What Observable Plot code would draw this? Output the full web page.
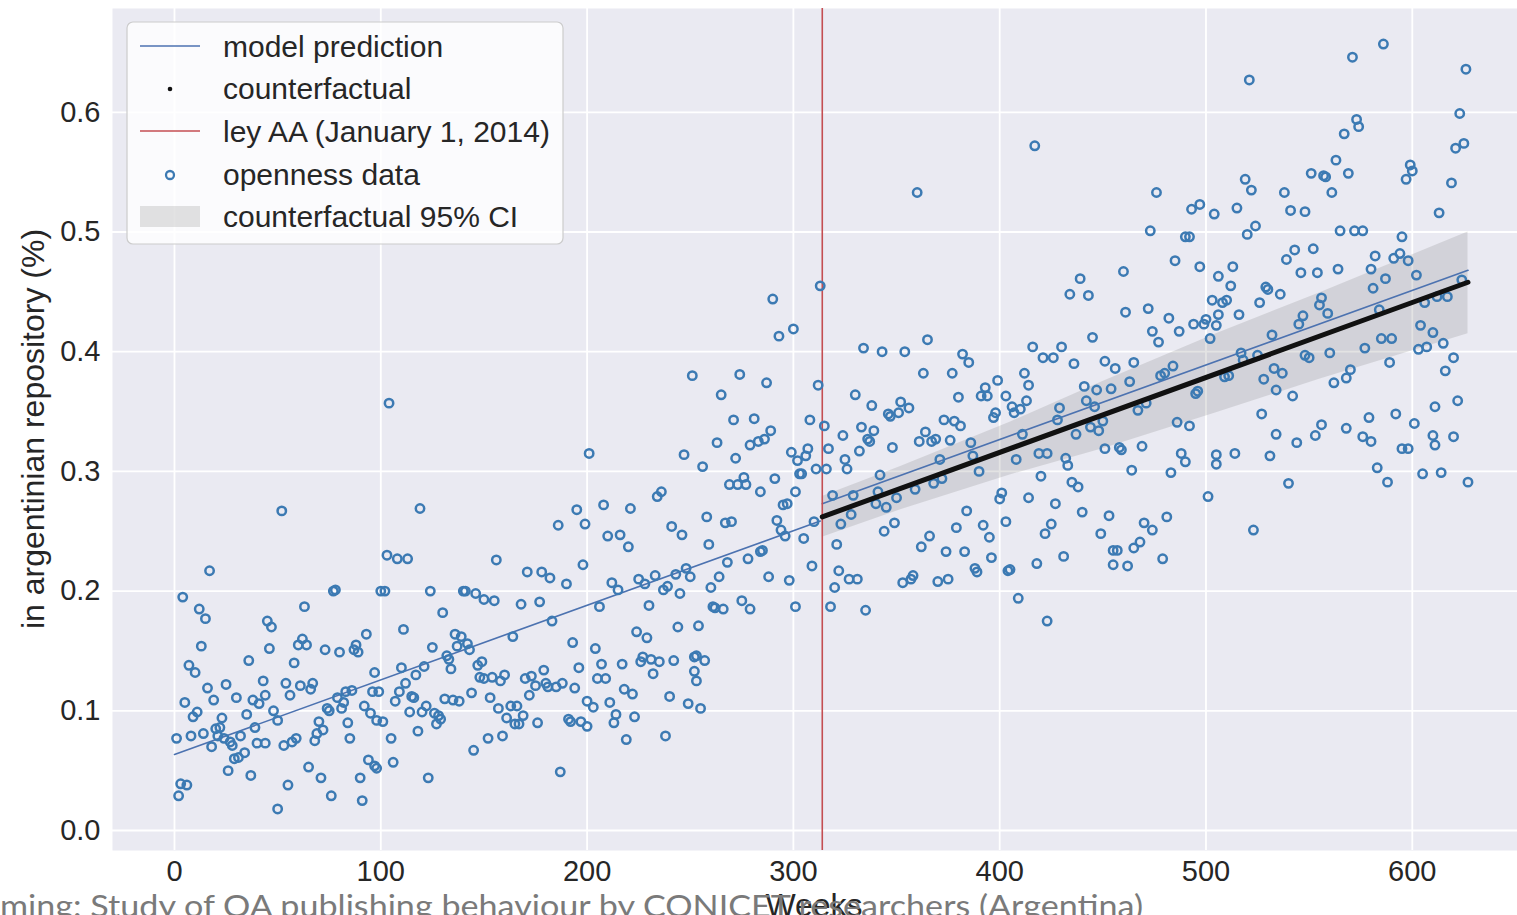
<!DOCTYPE html>
<html><head><meta charset="utf-8">
<script src="https://cdn.jsdelivr.net/npm/d3@7"></script>
<script src="https://cdn.jsdelivr.net/npm/@observablehq/plot@0.6"></script>
<style>
html,body{margin:0;padding:0;background:#fff;overflow:hidden;}
#wrap{position:relative;width:1517px;height:915px;}
#overlay{position:absolute;left:0;top:0;pointer-events:none;}
</style></head><body><div id="wrap"></div>
<script>
// openness data: [week, fraction]
const openness = [
[17,.217],[4,.195],[12,.185],[15,.177],[45,.175],[47,.170],[13,.154],[46,.152],[36,.142],[7,.138],[10,.132],[43,.125],[16,.119],[25,.122],[19,.109],[30,.111],[38,.109],[41,.106],[44,.113],[5,.107],[11,.099],[9,.095],[23,.094],[35,.097],[1,.077],[8,.079],[14,.081],[20,.085],[22,.086],[21,.079],[24,.077],[27,.074],[28,.071],[32,.079],[18,.070],[39,.086],[40,.073],[44,.073],[48,.100],[29,.060],[31,.061],[34,.065],[26,.050],[37,.046],[3,.039],[6,.038],[2,.029],[50,.018],
[52,.267],[77,.200],[78,.201],[100,.200],[63,.187],[93,.164],[62,.160],[60,.155],[64,.155],[73,.151],[80,.149],[88,.155],[87,.151],[89,.149],[58,.140],[97,.132],[54,.123],[61,.121],[67,.123],[66,.118],[56,.113],[96,.116],[99,.116],[79,.111],[83,.116],[86,.117],[82,.107],[74,.102],[75,.100],[81,.102],[92,.104],[95,.098],[50,.092],[70,.091],[72,.084],[84,.090],[98,.092],[69,.081],[68,.075],[59,.077],[57,.074],[53,.071],[85,.077],[65,.053],[71,.044],[94,.059],[97,.054],[90,.044],[55,.038],[76,.029],[91,.025],
[104,.357],[119,.269],[103,.230],[108,.227],[113,.227],[102,.200],[124,.200],[140,.200],[141,.200],[146,.198],[150,.193],[130,.182],[111,.168],[136,.164],[139,.162],[137,.154],[142,.156],[143,.151],[125,.153],[132,.146],[133,.143],[134,.135],[121,.137],[110,.136],[117,.130],[147,.138],[149,.141],[148,.128],[150,.127],[112,.123],[109,.116],[107,.108],[115,.112],[116,.111],[131,.110],[135,.109],[138,.108],[144,.115],[114,.099],[120,.099],[122,.104],[126,.098],[128,.096],[127,.089],[129,.093],[101,.091],[105,.077],[118,.083],[145,.067],[106,.057],[98,.052],[123,.044],
[201,.315],[195,.268],[186,.255],[199,.256],[156,.226],[198,.222],[171,.216],[178,.216],[182,.211],[190,.206],[155,.192],[168,.189],[177,.191],[183,.175],[164,.162],[193,.157],[196,.136],[179,.134],[160,.130],[154,.128],[158,.125],[170,.127],[173,.129],[175,.121],[180,.123],[181,.120],[185,.120],[188,.123],[194,.119],[153,.111],[172,.113],[200,.108],[157,.102],[163,.104],[166,.104],[161,.094],[165,.089],[167,.089],[169,.096],[176,.090],[191,.093],[192,.091],[197,.091],[200,.087],[152,.077],[159,.079],[187,.049],
[251,.380],[247,.314],[236,.283],[234,.279],[208,.272],[221,.269],[241,.254],[246,.247],[210,.246],[216,.247],[220,.237],[212,.207],[215,.201],[225,.210],[228,.206],[233,.213],[237,.201],[239,.204],[243,.214],[248,.219],[250,.212],[245,.198],[206,.187],[230,.188],[244,.170],[224,.166],[229,.161],[204,.152],[227,.145],[226,.141],[231,.143],[235,.141],[242,.142],[207,.139],[217,.139],[252,.145],[232,.131],[205,.127],[209,.127],[253,.125],[218,.118],[222,.114],[203,.103],[211,.107],[240,.112],[249,.106],[214,.097],[223,.095],[213,.090],[219,.076],[238,.079],
[290,.444],[293,.413],[300,.419],[274,.381],[287,.374],[265,.364],[271,.343],[281,.344],[289,.334],[286,.327],[283,.325],[279,.322],[263,.324],[272,.311],[299,.316],[302,.309],[303,.298],[256,.304],[269,.289],[273,.289],[276,.295],[277,.289],[284,.283],[291,.294],[301,.283],[295,.272],[297,.273],[258,.262],[267,.257],[270,.258],[292,.259],[294,.251],[296,.246],[259,.239],[284,.233],[285,.234],[278,.227],[268,.224],[264,.212],[288,.212],[298,.209],[260,.203],[275,.192],[279,.185],[261,.187],[262,.186],[266,.185],[301,.187],[254,.171],[253,.146],[257,.142],[252,.133],[255,.102],
[313,.455],[334,.403],[343,.400],[354,.400],[312,.372],[330,.364],[338,.355],[346,.348],[347,.346],[351,.349],[352,.358],[308,.343],[315,.338],[333,.337],[339,.334],[324,.330],[336,.327],[337,.325],[317,.319],[307,.319],[332,.317],[348,.320],[306,.313],[325,.310],[326,.302],[311,.302],[316,.302],[304,.298],[342,.297],[319,.280],[329,.280],[341,.283],[340,.273],[345,.270],[350,.278],[328,.264],[310,.258],[323,.256],[349,.257],[344,.250],[305,.244],[321,.239],[309,.221],[322,.217],[327,.210],[331,.210],[353,.207],[320,.203],[318,.187],[335,.184],
[360,.533],[365,.410],[382,.398],[385,.391],[363,.382],[377,.382],[399,.376],[393,.370],[391,.363],[394,.363],[380,.362],[356,.353],[398,.349],[397,.345],[373,.343],[378,.342],[381,.338],[364,.333],[361,.325],[367,.325],[369,.327],[376,.326],[386,.324],[371,.310],[387,.313],[390,.300],[359,.285],[368,.290],[372,.294],[401,.282],[400,.277],[384,.267],[403,.258],[379,.253],[392,.255],[395,.245],[366,.246],[362,.237],[374,.233],[383,.233],[396,.228],[404,.217],[358,.213],[357,.210],[388,.219],[389,.216],[370,.208],[375,.210],
[417,.572],[439,.461],[434,.448],[443,.447],[445,.412],[416,.404],[421,.395],[426,.395],[430,.404],[436,.390],[451,.392],[412,.382],[414,.372],[441,.371],[447,.368],[454,.369],[403,.363],[413,.359],[406,.354],[410,.352],[407,.349],[442,.359],[446,.354],[429,.353],[428,.343],[444,.337],[448,.334],[450,.342],[411,.331],[437,.331],[451,.319],[408,.310],[419,.315],[423,.315],[432,.311],[433,.305],[420,.296],[435,.291],[438,.287],[414,.278],[427,.273],[440,.266],[453,.263],[425,.256],[422,.248],[449,.248],[455,.234],[431,.229],[418,.223],[405,.218],[455,.222],[409,.194],[423,.175],
[476,.533],[493,.519],[497,.523],[504,.515],[473,.501],[490,.496],[492,.496],[460,.467],[485,.476],[497,.471],[506,.463],[503,.443],[461,.433],[472,.436],[474,.417],[477,.408],[482,.428],[487,.417],[494,.423],[500,.427],[499,.423],[505,.422],[502,.411],[456,.386],[465,.391],[463,.375],[478,.380],[480,.382],[484,.388],[495,.365],[496,.367],[467,.351],[471,.357],[486,.341],[492,.338],[458,.320],[459,.318],[469,.321],[488,.315],[490,.308],[505,.306],[464,.301],[483,.299],[501,.279],[470,.257],[474,.251],[481,.262],[468,.241],[465,.236],[457,.234],[462,.221],[479,.227],
[521,.627],[551,.549],[557,.547],[519,.544],[522,.535],[538,.533],[515,.520],[541,.518],[548,.517],[524,.505],[520,.498],[543,.485],[539,.477],[552,.486],[513,.471],[512,.455],[546,.466],[554,.466],[529,.454],[530,.452],[536,.448],[508,.441],[510,.443],[526,.441],[506,.431],[516,.431],[556,.445],[555,.439],[547,.430],[545,.423],[532,.414],[517,.399],[518,.393],[525,.397],[548,.397],[550,.395],[509,.379],[511,.380],[533,.386],[537,.382],[528,.377],[534,.368],[542,.363],[527,.348],[556,.339],[534,.331],[544,.324],[553,.330],[505,.314],[514,.315],[531,.313],[540,.290],[523,.251],
[586,.657],[571,.646],[626,.636],[573,.594],[574,.588],[567,.582],[623,.599],[621,.570],[625,.574],[563,.560],[558,.546],[569,.549],[561,.533],[599,.556],[600,.551],[597,.544],[619,.541],[613,.516],[565,.501],[572,.501],[576,.501],[595,.496],[594,.482],[591,.478],[598,.476],[582,.480],[564,.469],[580,.469],[602,.464],[587,.461],[581,.453],[624,.460],[559,.432],[584,.435],[606,.441],[612,.446],[617,.446],[604,.422],[610,.416],[585,.411],[590,.411],[615,.407],[577,.403],[603,.402],[607,.404],[560,.399],[620,.395],[589,.391],[616,.384],[570,.385],[568,.378],[562,.374],[622,.359],[611,.354],[579,.345],[592,.348],[601,.340],[568,.336],[576,.329],[580,.325],[595,.319],[598,.319],[610,.330],[611,.322],[620,.329],[583,.303],[588,.291],[605,.298],[614,.299],[627,.291]
];

// model prediction (two segments around the intervention)
const modelWeeks = [0, 313, 314, 627];
const modelValues = [0.0635, 0.2585, 0.273, 0.468];
const modelSegments = ["before", "before", "after", "after"];

// counterfactual
const cfWeeks = [314, 627];
const cfValues = [0.262, 0.458];

// counterfactual 95% CI
const ciWeeks = [314, 352, 405, 450, 505, 555, 627];
const ciLower = [0.245, 0.268, 0.297, 0.319, 0.349, 0.377, 0.415];
const ciUpper = [0.279, 0.304, 0.341, 0.375, 0.415, 0.449, 0.500];

const interventionWeek = [314];
const xTicks = [0, 100, 200, 300, 400, 500, 600];
const yTicks = [0.0, 0.1, 0.2, 0.3, 0.4, 0.5, 0.6];

const legendLabels = ["model prediction", "counterfactual", "ley AA (January 1, 2014)", "openness data", "counterfactual 95% CI"];
const yLabel = "in argentinian repository (%)";
const xLabel = "Weeks";
const caption = "ming: Study of OA publishing behaviour by CONICET researchers (Argentina)";

const FONT = "'Liberation Sans', Arial, Helvetica, sans-serif";
const BLUE = "#4c72b0", RED = "#c44e52", DOT = "#3c7ab3";

const points = openness.map(([w, v]) => ({week: w, value: v}));
const model = modelWeeks.map((w, i) => ({week: w, value: modelValues[i], seg: modelSegments[i]}));
const cf = cfWeeks.map((w, i) => ({week: w, value: cfValues[i]}));
const ci = ciWeeks.map((w, i) => ({week: w, lo: ciLower[i], hi: ciUpper[i]}));

const chart = Plot.plot({
  width: 1517, height: 915,
  marginLeft: 112, marginRight: 0, marginTop: 8, marginBottom: 65,
  style: {fontFamily: FONT, fontSize: "29px", color: "#262626", background: "transparent", overflow: "visible"},
  x: {domain: [-30.05, 651], ticks: xTicks, tickSize: 0, tickPadding: 10, label: null},
  y: {domain: [-0.0167, 0.6867], ticks: yTicks, tickSize: 0, tickPadding: 12, tickFormat: d => d.toFixed(1), label: null},
  marks: [
    Plot.frame({fill: "#eaeaf2", stroke: "none"}),
    Plot.ruleX(xTicks, {stroke: "white", strokeWidth: 1.8}),
    Plot.ruleY(yTicks, {stroke: "white", strokeWidth: 1.8}),
    Plot.areaY(ci, {x: "week", y1: "lo", y2: "hi", fill: "#808080", fillOpacity: 0.22}),
    Plot.line(model, {x: "week", y: "value", z: "seg", stroke: BLUE, strokeWidth: 1.6}),
    Plot.ruleX(interventionWeek, {stroke: RED, strokeWidth: 1.6}),
    Plot.dot(points, {x: "week", y: "value", r: 4.2, stroke: DOT, strokeWidth: 2.5, fill: "none"}),
    Plot.line(cf, {x: "week", y: "value", stroke: "#111", strokeWidth: 5})
  ]
});
const wrap = document.getElementById("wrap");
wrap.appendChild(chart);

// overlay: axis titles, legend, caption
const ov = d3.select(wrap).append("svg").attr("id", "overlay")
  .attr("width", 1517).attr("height", 915).style("font-family", FONT);

ov.append("text").attr("transform", "translate(33,429) rotate(-90)")
  .attr("text-anchor", "middle").attr("dominant-baseline", "central")
  .attr("font-size", 32).attr("fill", "#262626").text(yLabel);

ov.append("text").attr("x", 814).attr("y", 916).attr("text-anchor", "middle")
  .attr("font-size", 32).attr("fill", "#262626").text(xLabel);

const lg = ov.append("g");
lg.append("rect").attr("x", 127).attr("y", 22).attr("width", 436).attr("height", 222).attr("rx", 6)
  .attr("fill", "white").attr("fill-opacity", 0.8).attr("stroke", "#cccccc").attr("stroke-width", 1.2);
const rows = [46, 88, 131, 174, 216];
lg.append("line").attr("x1", 140).attr("x2", 200).attr("y1", rows[0]).attr("y2", rows[0]).attr("stroke", BLUE).attr("stroke-width", 1.6);
lg.append("circle").attr("cx", 170).attr("cy", rows[1] + 1).attr("r", 2.3).attr("fill", "#111");
lg.append("line").attr("x1", 140).attr("x2", 200).attr("y1", rows[2]).attr("y2", rows[2]).attr("stroke", RED).attr("stroke-width", 1.6);
lg.append("circle").attr("cx", 170).attr("cy", rows[3] + 1).attr("r", 4).attr("fill", "none").attr("stroke", DOT).attr("stroke-width", 2.3);
lg.append("rect").attr("x", 140).attr("y", rows[4] - 10).attr("width", 60).attr("height", 21).attr("fill", "#808080").attr("fill-opacity", 0.22);
legendLabels.forEach((t, i) => {
  lg.append("text").attr("x", 223).attr("y", rows[i]).attr("dominant-baseline", "central")
    .attr("font-size", 30).attr("fill", "#262626").text(t);
});

ov.append("text").attr("x", 0).attr("y", 917).attr("font-family", "Lato, 'Open Sans', sans-serif")
  .attr("font-size", 31).attr("fill", "#7a7a7a")
  .attr("textLength", 1143).attr("lengthAdjust", "spacingAndGlyphs").text(caption);
</script>
</body></html>
